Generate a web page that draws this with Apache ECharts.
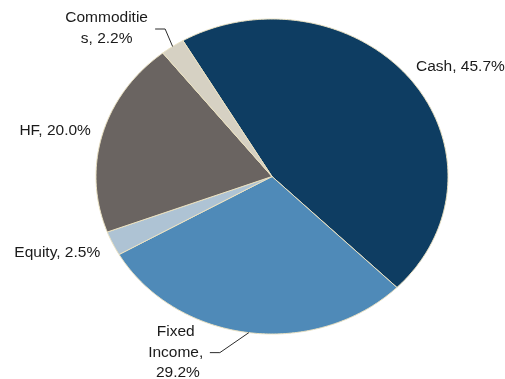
<!DOCTYPE html>
<html>
<head>
<meta charset="utf-8">
<script src="https://cdn.jsdelivr.net/npm/echarts@6/dist/echarts.min.js"></script>
<style>
  html, body { margin: 0; padding: 0; background: #fff; }
  #chart { width: 505px; height: 379px; }
</style>
</head>
<body>
<div id="chart"></div>
<script>
// Asset allocation, clockwise from the first slice
const categories = ['Cash', 'Fixed Income', 'Equity', 'HF', 'Commodities'];
const shares = [45.7, 29.2, 2.5, 20.0, 2.2];
const sliceColors = ['#0E3D62', '#4F8AB8', '#AEC3D4', '#6A6461', '#D6D1C3'];

// First slice edge, degrees clockwise from 12 o'clock
const START_ANGLE = -30.4;

// Label placement relative to the slice's outer midpoint (pixels)
const labelLayout = [
  { dx: 5, dy: -13, align: 'left' },
  { dx: -71, dy: 20, align: 'center', width: 62, leader: [[-29, 20], [-39, 20]] },
  { dx: -12.5, dy: 9.5, align: 'right' },
  { dx: -11.5, dy: -4, align: 'right' },
  { dx: -66, dy: -18.5, align: 'center', width: 86, wrapAll: true, leader: [[-7.5, -17.5], [-17.5, -17.5]] }
];

const total = shares.reduce((a, b) => a + b, 0);
const rad = d => d * Math.PI / 180;

function renderSlice(params, api) {
  const i = params.dataIndex;
  let before = 0;
  for (let k = 0; k < i; k++) before += shares[k];
  const a0 = START_ANGLE + before / total * 360;
  const a1 = a0 + shares[i] / total * 360;

  const pts = [api.coord([0, 0])];
  const steps = Math.max(2, Math.ceil((a1 - a0) / 0.5));
  for (let s = 0; s <= steps; s++) {
    const a = rad(a0 + (a1 - a0) * s / steps);
    pts.push(api.coord([Math.sin(a), Math.cos(a)]));
  }

  const mid = rad((a0 + a1) / 2);
  const edge = api.coord([Math.sin(mid), Math.cos(mid)]);
  const lay = labelLayout[i];
  const text = categories[i] + ', ' + shares[i].toFixed(1) + '%';

  const children = [{
    type: 'polygon',
    shape: { points: pts },
    style: { fill: sliceColors[i], stroke: '#EBE2C2', lineWidth: 1, lineJoin: 'round' }
  }];

  if (lay.leader) {
    const lp = [edge].concat(lay.leader.map(o => [edge[0] + o[0], edge[1] + o[1]]));
    children.push({
      type: 'polyline',
      shape: { points: lp },
      style: { stroke: '#2b2b2b', lineWidth: 1, fill: null }
    });
  }

  const textStyle = {
    text: text,
    fill: '#1a1a1a',
    font: '15.5px "Liberation Sans", Arial, sans-serif',
    align: lay.align,
    verticalAlign: 'middle',
    lineHeight: 20.5
  };
  if (lay.width) {
    textStyle.width = lay.width;
    textStyle.overflow = lay.wrapAll ? 'breakAll' : 'break';
  }
  children.push({
    type: 'text',
    x: edge[0] + lay.dx,
    y: edge[1] + lay.dy,
    style: textStyle
  });

  return { type: 'group', children: children };
}

const chart = echarts.init(document.getElementById('chart'), null, { renderer: 'canvas' });
chart.setOption({
  animation: false,
  backgroundColor: '#ffffff',
  grid: { left: 96, top: 19, width: 352, height: 315 },
  xAxis: { type: 'value', min: -1, max: 1, show: false },
  yAxis: { type: 'value', min: -1, max: 1, show: false },
  series: [{
    type: 'custom',
    coordinateSystem: 'cartesian2d',
    clip: false,
    silent: true,
    renderItem: renderSlice,
    data: shares.map((v, i) => [i, v])
  }]
});
</script>
</body>
</html>
